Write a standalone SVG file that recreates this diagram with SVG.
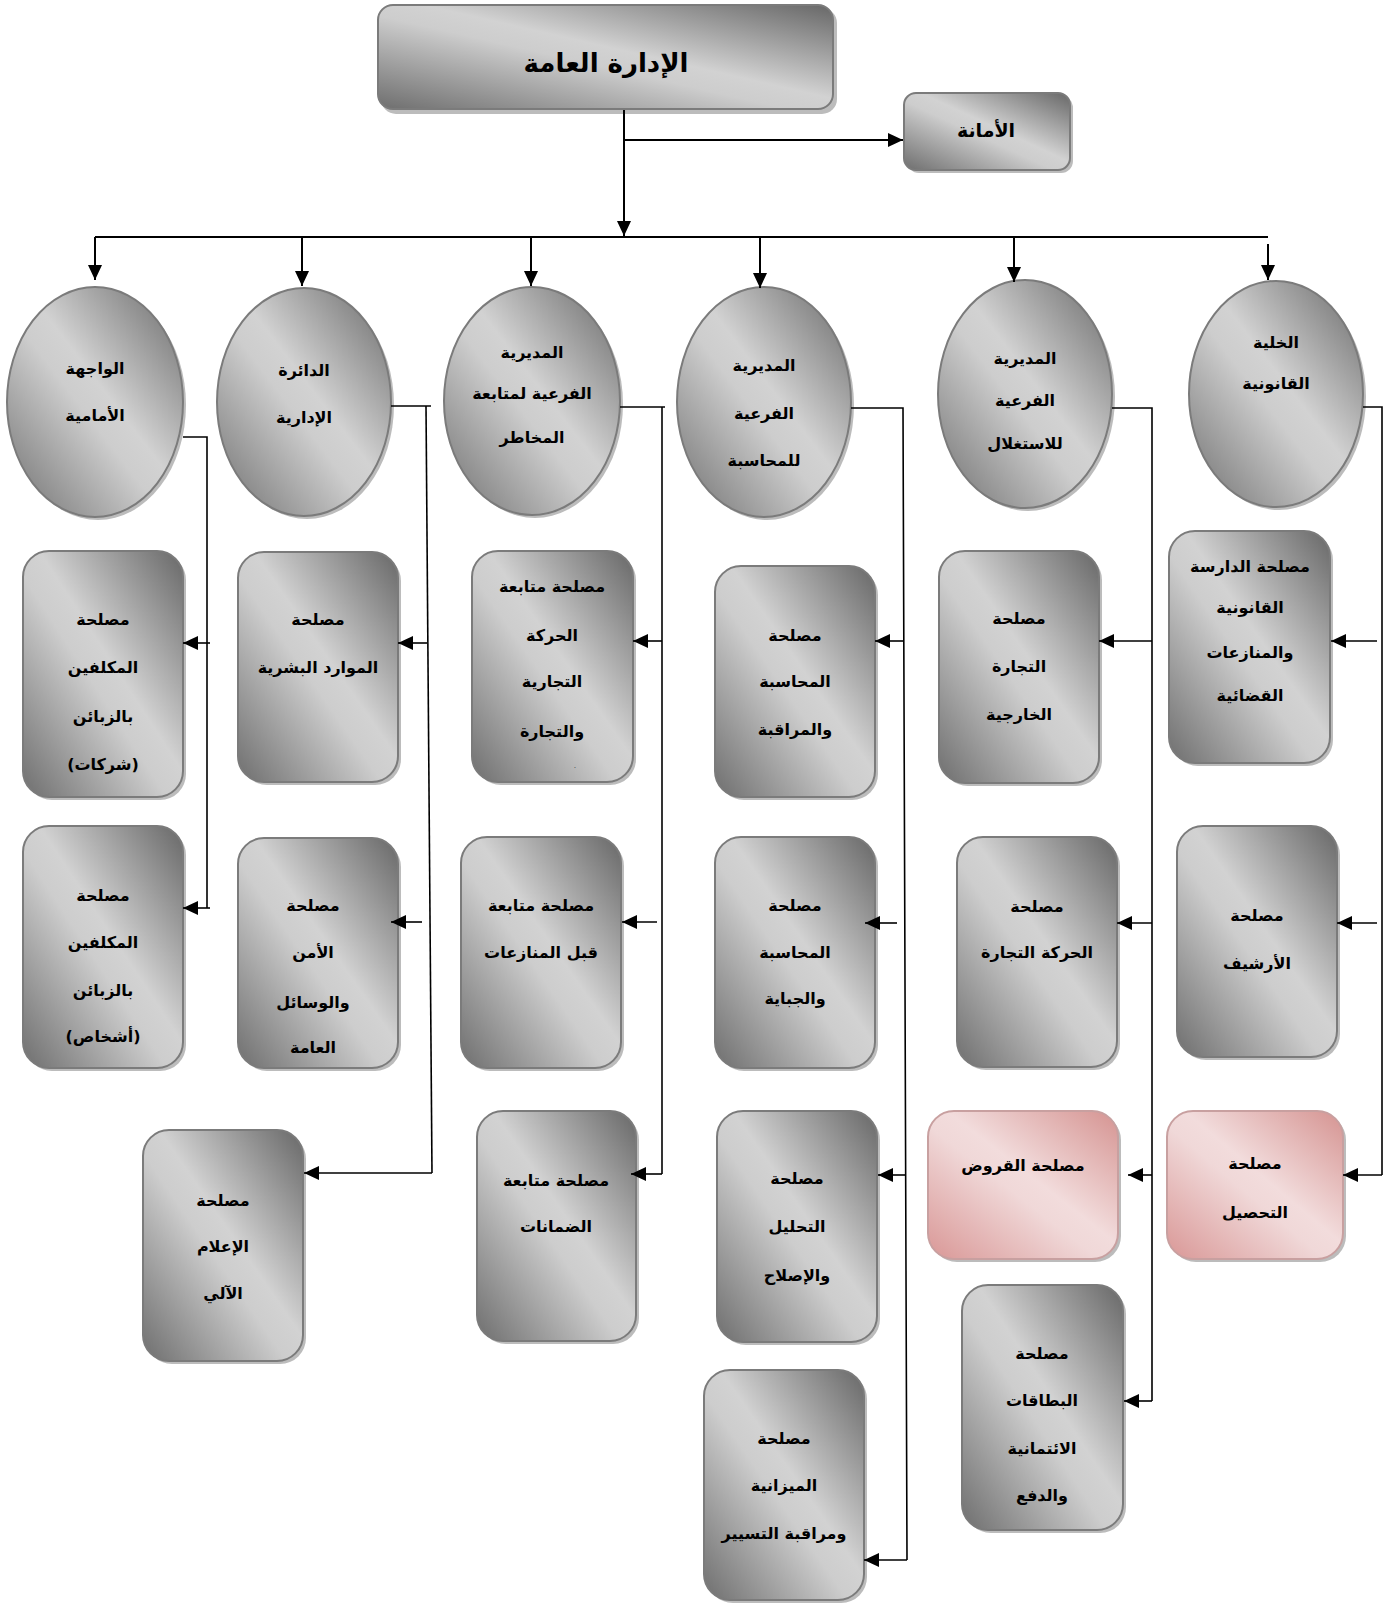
<svg xmlns="http://www.w3.org/2000/svg" width="1384" height="1603" viewBox="0 0 1384 1603">
<defs>
<linearGradient id="g" x1="1" y1="0" x2="0" y2="1">
<stop offset="0" stop-color="#676767"/>
<stop offset="0.45" stop-color="#d2d2d2"/>
<stop offset="0.55" stop-color="#cdcdcd"/>
<stop offset="1" stop-color="#6e6e6e"/>
</linearGradient>
<linearGradient id="p" x1="1" y1="0" x2="0" y2="1">
<stop offset="0" stop-color="#d59391"/>
<stop offset="0.45" stop-color="#f2dcdc"/>
<stop offset="0.55" stop-color="#f0d8d8"/>
<stop offset="1" stop-color="#d99796"/>
</linearGradient>
<marker id="a" markerUnits="userSpaceOnUse" markerWidth="16" markerHeight="14" refX="15" refY="7" orient="auto">
<path d="M0,0 L15,7 L0,14 z" fill="#000"/>
</marker>
</defs>
<style>
.s{fill:#bcbcbc}
.b{fill:url(#g);stroke:#7b7b7b;stroke-width:2}
.pk{fill:url(#p);stroke:#c8a0a0;stroke-width:2}
.t{font-family:"DejaVu Sans",sans-serif;font-weight:bold;font-size:16px;text-anchor:middle;fill:#000}
.c{fill:none;stroke:#000;stroke-width:1.6}
.c2{fill:none;stroke:#000;stroke-width:2}
.ar{marker-end:url(#a)}
</style>
<rect width="1384" height="1603" fill="#fff"/>

<g id="n-main">
<rect class="s" x="381" y="8" width="456" height="106" rx="15"/>
<rect class="b" x="378" y="5" width="455" height="104" rx="15"/>
<text class="t" x="606" y="72" style="font-size:26px">الإدارة العامة</text>
</g>
<g id="n-amana">
<rect class="s" x="907" y="96" width="166" height="77" rx="12"/>
<rect class="b" x="904" y="93" width="166" height="77" rx="12"/>
<text class="t" x="986" y="137" style="font-size:19px">الأمانة</text>
</g>

<g id="e1">
<ellipse class="s" cx="98" cy="405" rx="88" ry="115"/>
<ellipse class="b" cx="95" cy="402" rx="88" ry="115"/>
<text class="t" x="95" y="374">الواجهة</text>
<text class="t" x="95" y="421">الأمامية</text>
</g>
<g id="e2">
<ellipse class="s" cx="307" cy="405" rx="87" ry="114"/>
<ellipse class="b" cx="304" cy="402" rx="87" ry="114"/>
<text class="t" x="304" y="376">الدائرة</text>
<text class="t" x="304" y="423">الإدارية</text>
</g>
<g id="e3">
<ellipse class="s" cx="535" cy="404" rx="88" ry="114"/>
<ellipse class="b" cx="532" cy="401" rx="88" ry="114"/>
<text class="t" x="532" y="358">المديرية</text>
<text class="t" x="532" y="399">الفرعية لمتابعة</text>
<text class="t" x="532" y="443">المخاطر</text>
</g>
<g id="e4">
<ellipse class="s" cx="767" cy="405" rx="87" ry="115"/>
<ellipse class="b" cx="764" cy="402" rx="87" ry="115"/>
<text class="t" x="764" y="371">المديرية</text>
<text class="t" x="764" y="419">الفرعية</text>
<text class="t" x="764" y="466">للمحاسبة</text>
</g>
<g id="e5">
<ellipse class="s" cx="1028" cy="397" rx="87" ry="114"/>
<ellipse class="b" cx="1025" cy="394" rx="87" ry="114"/>
<text class="t" x="1025" y="364">المديرية</text>
<text class="t" x="1025" y="406">الفرعية</text>
<text class="t" x="1025" y="449">للاستغلال</text>
</g>
<g id="e6">
<ellipse class="s" cx="1279" cy="397" rx="87" ry="113"/>
<ellipse class="b" cx="1276" cy="394" rx="87" ry="113"/>
<text class="t" x="1276" y="348">الخلية</text>
<text class="t" x="1276" y="389">القانونية</text>
</g>

<g id="b1a">
<rect class="s" x="26" y="554" width="160" height="246" rx="26"/>
<rect class="b" x="23" y="551" width="160" height="246" rx="26"/>
<text class="t" x="103" y="625">مصلحة</text>
<text class="t" x="103" y="673">المكلفين</text>
<text class="t" x="103" y="722">بالزبائن</text>
<text class="t" x="103" y="770">(شركات)</text>
</g>
<g id="b1b">
<rect class="s" x="26" y="829" width="160" height="242" rx="26"/>
<rect class="b" x="23" y="826" width="160" height="242" rx="26"/>
<text class="t" x="103" y="901">مصلحة</text>
<text class="t" x="103" y="948">المكلفين</text>
<text class="t" x="103" y="996">بالزبائن</text>
<text class="t" x="103" y="1042">(أشخاص)</text>
</g>
<g id="b2a">
<rect class="s" x="241" y="555" width="160" height="230" rx="26"/>
<rect class="b" x="238" y="552" width="160" height="230" rx="26"/>
<text class="t" x="318" y="625">مصلحة</text>
<text class="t" x="318" y="673">الموارد البشرية</text>
</g>
<g id="b2b">
<rect class="s" x="241" y="841" width="160" height="230" rx="26"/>
<rect class="b" x="238" y="838" width="160" height="230" rx="26"/>
<text class="t" x="313" y="911">مصلحة</text>
<text class="t" x="313" y="958">الأمن</text>
<text class="t" x="313" y="1008">والوسائل</text>
<text class="t" x="313" y="1053">العامة</text>
</g>
<g id="b2c">
<rect class="s" x="146" y="1133" width="160" height="231" rx="26"/>
<rect class="b" x="143" y="1130" width="160" height="231" rx="26"/>
<text class="t" x="223" y="1206">مصلحة</text>
<text class="t" x="223" y="1252">الإعلام</text>
<text class="t" x="223" y="1299">الآلي</text>
</g>

<g id="b3a">
<rect class="s" x="475" y="554" width="161" height="231" rx="26"/>
<rect class="b" x="472" y="551" width="161" height="231" rx="26"/>
<text class="t" x="552" y="592">مصلحة متابعة</text>
<text class="t" x="552" y="641">الحركة</text>
<text class="t" x="552" y="687">التجارية</text>
<text class="t" x="552" y="737">والتجارة</text>
<text class="t" x="575" y="768" style="font-size:6px;font-weight:normal">.</text>
</g>
<g id="b3b">
<rect class="s" x="464" y="840" width="160" height="231" rx="26"/>
<rect class="b" x="461" y="837" width="160" height="231" rx="26"/>
<text class="t" x="541" y="911">مصلحة متابعة</text>
<text class="t" x="541" y="958">قبل المنازعات</text>
</g>
<g id="b3c">
<rect class="s" x="480" y="1114" width="159" height="230" rx="26"/>
<rect class="b" x="477" y="1111" width="159" height="230" rx="26"/>
<text class="t" x="556" y="1186">مصلحة متابعة</text>
<text class="t" x="556" y="1232">الضمانات</text>
</g>

<g id="b4a">
<rect class="s" x="718" y="569" width="160" height="231" rx="26"/>
<rect class="b" x="715" y="566" width="160" height="231" rx="26"/>
<text class="t" x="795" y="641">مصلحة</text>
<text class="t" x="795" y="687">المحاسبة</text>
<text class="t" x="795" y="735">والمراقبة</text>
</g>
<g id="b4b">
<rect class="s" x="718" y="840" width="160" height="231" rx="26"/>
<rect class="b" x="715" y="837" width="160" height="231" rx="26"/>
<text class="t" x="795" y="911">مصلحة</text>
<text class="t" x="795" y="958">المحاسبة</text>
<text class="t" x="795" y="1004">والجباية</text>
</g>
<g id="b4c">
<rect class="s" x="720" y="1114" width="160" height="231" rx="26"/>
<rect class="b" x="717" y="1111" width="160" height="231" rx="26"/>
<text class="t" x="797" y="1184">مصلحة</text>
<text class="t" x="797" y="1232">التحليل</text>
<text class="t" x="797" y="1281">والإصلاح</text>
</g>
<g id="b4d">
<rect class="s" x="707" y="1373" width="160" height="230" rx="26"/>
<rect class="b" x="704" y="1370" width="160" height="230" rx="26"/>
<text class="t" x="784" y="1444">مصلحة</text>
<text class="t" x="784" y="1491">الميزانية</text>
<text class="t" x="784" y="1539">ومراقبة التسيير</text>
</g>

<g id="b5a">
<rect class="s" x="942" y="554" width="160" height="232" rx="26"/>
<rect class="b" x="939" y="551" width="160" height="232" rx="26"/>
<text class="t" x="1019" y="624">مصلحة</text>
<text class="t" x="1019" y="672">التجارة</text>
<text class="t" x="1019" y="720">الخارجية</text>
</g>
<g id="b5b">
<rect class="s" x="960" y="840" width="160" height="230" rx="26"/>
<rect class="b" x="957" y="837" width="160" height="230" rx="26"/>
<text class="t" x="1037" y="912">مصلحة</text>
<text class="t" x="1037" y="958">الحركة التجارة</text>
</g>
<g id="b5c">
<rect class="s" x="931" y="1114" width="190" height="148" rx="26"/>
<rect class="pk" x="928" y="1111" width="190" height="148" rx="26"/>
<text class="t" x="1023" y="1171">مصلحة القروض</text>
</g>
<g id="b5d">
<rect class="s" x="965" y="1288" width="161" height="245" rx="26"/>
<rect class="b" x="962" y="1285" width="161" height="245" rx="26"/>
<text class="t" x="1042" y="1359">مصلحة</text>
<text class="t" x="1042" y="1406">البطاقات</text>
<text class="t" x="1042" y="1454">الائتمانية</text>
<text class="t" x="1042" y="1501">والدفع</text>
</g>

<g id="b6a">
<rect class="s" x="1172" y="534" width="161" height="232" rx="26"/>
<rect class="b" x="1169" y="531" width="161" height="232" rx="26"/>
<text class="t" x="1250" y="572">مصلحة الدارسة</text>
<text class="t" x="1250" y="613">القانونية</text>
<text class="t" x="1250" y="658">والمنازعات</text>
<text class="t" x="1250" y="701">القضائية</text>
</g>
<g id="b6b">
<rect class="s" x="1180" y="829" width="160" height="231" rx="26"/>
<rect class="b" x="1177" y="826" width="160" height="231" rx="26"/>
<text class="t" x="1257" y="921">مصلحة</text>
<text class="t" x="1257" y="969">الأرشيف</text>
</g>
<g id="b6c">
<rect class="s" x="1170" y="1114" width="176" height="148" rx="26"/>
<rect class="pk" x="1167" y="1111" width="176" height="148" rx="26"/>
<text class="t" x="1255" y="1169">مصلحة</text>
<text class="t" x="1255" y="1218">التحصيل</text>
</g>

<g id="connectors">
<path class="c2 ar" d="M624,110 V236"/>
<path class="c2 ar" d="M624,140 H903"/>
<path class="c2" d="M95,237 H1268"/>
<path class="c2 ar" d="M95,237 V280"/>
<path class="c2 ar" d="M302,238 V286"/>
<path class="c2 ar" d="M531,238 V286"/>
<path class="c2 ar" d="M760,238 V288"/>
<path class="c2 ar" d="M1014,238 V282"/>
<path class="c2 ar" d="M1268,244 V280"/>

<path class="c" d="M183,437 H207 V908"/>
<path class="c ar" d="M210,643 H183"/>
<path class="c ar" d="M210,908 H183"/>

<path class="c" d="M391,406 H431"/>
<path class="c" d="M426,406 L432,1173"/>
<path class="c ar" d="M427,643 H398"/>
<path class="c ar" d="M422,922 H391"/>
<path class="c ar" d="M432,1173 H304"/>

<path class="c" d="M620,407 H665"/>
<path class="c" d="M662,407 V1174"/>
<path class="c ar" d="M662,641 H633"/>
<path class="c ar" d="M657,922 H622"/>
<path class="c ar" d="M662,1174 H631"/>

<path class="c" d="M851,408 H903 L907,1560"/>
<path class="c ar" d="M903,641 H875"/>
<path class="c ar" d="M897,923 H865"/>
<path class="c ar" d="M906,1175 H878"/>
<path class="c ar" d="M907,1560 H864"/>

<path class="c" d="M1112,408 H1152 V1401"/>
<path class="c ar" d="M1152,641 H1099"/>
<path class="c ar" d="M1152,923 H1117"/>
<path class="c ar" d="M1152,1175 H1128"/>
<path class="c ar" d="M1152,1401 H1124"/>

<path class="c" d="M1363,407 H1382 V1175"/>
<path class="c ar" d="M1377,641 H1331"/>
<path class="c ar" d="M1377,923 H1337"/>
<path class="c ar" d="M1382,1175 H1343"/>
</g>
</svg>
